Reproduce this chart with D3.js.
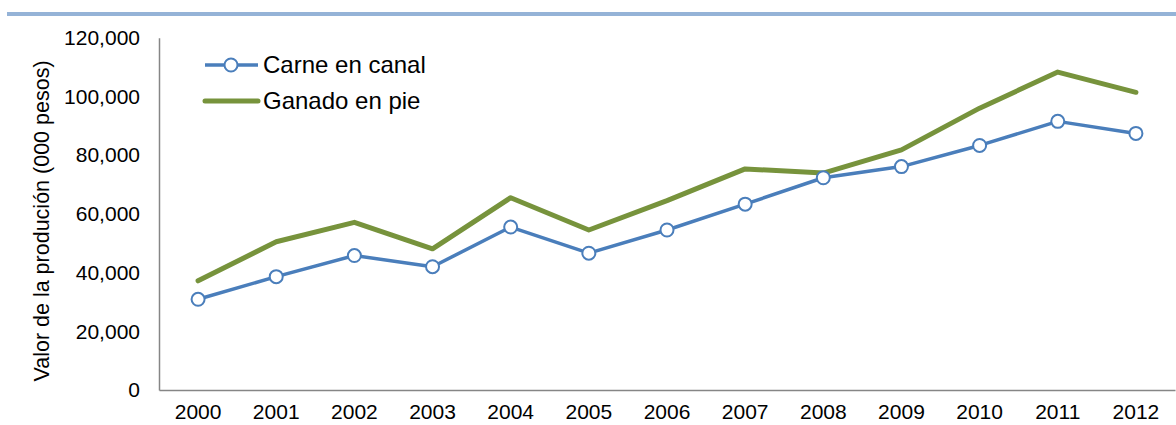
<!DOCTYPE html>
<html>
<head>
  <meta charset="utf-8" />
  <script src="https://d3js.org/d3.v7.min.js"></script>
  <style>
    body { margin: 0; background: #fff; }
    text { font-family: "Liberation Sans", Arial, sans-serif; fill: #000; }
  </style>
</head>
<body>
  <script>
    // - - - data - - -
    var years = ["2000","2001","2002","2003","2004","2005","2006","2007","2008","2009","2010","2011","2012"];
    var carneEnCanal = [30900, 38600, 45800, 42000, 55500, 46600, 54500, 63300, 72300, 76100, 83300, 91500, 87400];
    var ganadoEnPie  = [37200, 50500, 57100, 48100, 65500, 54500, 64500, 75300, 73900, 81800, 96000, 108300, 101400];
    var yTicks = [0, 20000, 40000, 60000, 80000, 100000, 120000];
    var seriesNames = ["Carne en canal", "Ganado en pie"];

    var W = 1176, H = 425;
    var margin = {top: 37.7, right: 1, bottom: 35, left: 159};

    var svg = d3.select("body").append("svg")
        .attr("width", W)
        .attr("height", H);

    // banner line at top
    svg.append("rect")
        .attr("x", 7).attr("y", 12)
        .attr("width", W - 7).attr("height", 4)
        .attr("fill", "#95b3d7");

    var x = d3.scaleBand()
        .domain(years)
        .range([margin.left, W - margin.right]);

    var y = d3.scaleLinear()
        .domain([0, 120000])
        .range([H - margin.bottom, margin.top]);

    var fmt = d3.format(",");

    // y axis
    var yAxis = svg.append("g")
        .attr("transform", "translate(" + margin.left + ",0)")
        .call(d3.axisLeft(y).tickValues(yTicks).tickSize(0).tickPadding(19).tickFormat(fmt));
    yAxis.select(".domain").attr("stroke", "#868686").attr("stroke-width", 1.5);
    yAxis.selectAll("text").style("font-size", "21px").attr("fill", "#000");

    // x axis
    var xAxis = svg.append("g")
        .attr("transform", "translate(0," + (H - margin.bottom) + ")")
        .call(d3.axisBottom(x).tickSize(0).tickPadding(14));
    xAxis.select(".domain").attr("stroke", "#868686").attr("stroke-width", 1.5);
    xAxis.selectAll("text").style("font-size", "21px").attr("fill", "#000");

    // y label
    svg.append("text")
        .attr("transform", "translate(49," + 221 + ") rotate(-90)")
        .attr("text-anchor", "middle")
        .style("font-size", "21.5px")
        .text("Valor de la produción (000 pesos)");

    var cx = function(d, i) { return x(years[i]) + x.bandwidth() / 2; };

    var line = d3.line()
        .x(cx)
        .y(function(d) { return y(d); });

    svg.append("path")
        .datum(ganadoEnPie)
        .attr("d", line)
        .attr("fill", "none")
        .attr("stroke", "#77933c")
        .attr("stroke-width", 5)
        .attr("stroke-linejoin", "round")
        .attr("stroke-linecap", "round");

    svg.append("path")
        .datum(carneEnCanal)
        .attr("d", line)
        .attr("fill", "none")
        .attr("stroke", "#4a7ebb")
        .attr("stroke-width", 3.5)
        .attr("stroke-linejoin", "round");

    svg.append("g").selectAll("circle")
        .data(carneEnCanal)
      .enter().append("circle")
        .attr("cx", cx)
        .attr("cy", function(d) { return y(d); })
        .attr("r", 6.5)
        .attr("fill", "#fff")
        .attr("stroke", "#4a7ebb")
        .attr("stroke-width", 2);

    // legend
    var leg = svg.append("g");
    leg.append("line")
        .attr("x1", 205).attr("x2", 258).attr("y1", 65).attr("y2", 65)
        .attr("stroke", "#4a7ebb").attr("stroke-width", 3.5);
    leg.append("circle")
        .attr("cx", 231).attr("cy", 65).attr("r", 6.5)
        .attr("fill", "#fff").attr("stroke", "#4a7ebb").attr("stroke-width", 2);
    leg.append("line")
        .attr("x1", 205).attr("x2", 258).attr("y1", 101).attr("y2", 101)
        .attr("stroke", "#77933c").attr("stroke-width", 5).attr("stroke-linecap", "round");
    leg.selectAll("text")
        .data(seriesNames)
      .enter().append("text")
        .attr("x", 263)
        .attr("y", function(d, i) { return 65 + i * 36; })
        .attr("dy", "0.35em")
        .style("font-size", "24px")
        .text(function(d) { return d; });
  </script>
</body>
</html>
